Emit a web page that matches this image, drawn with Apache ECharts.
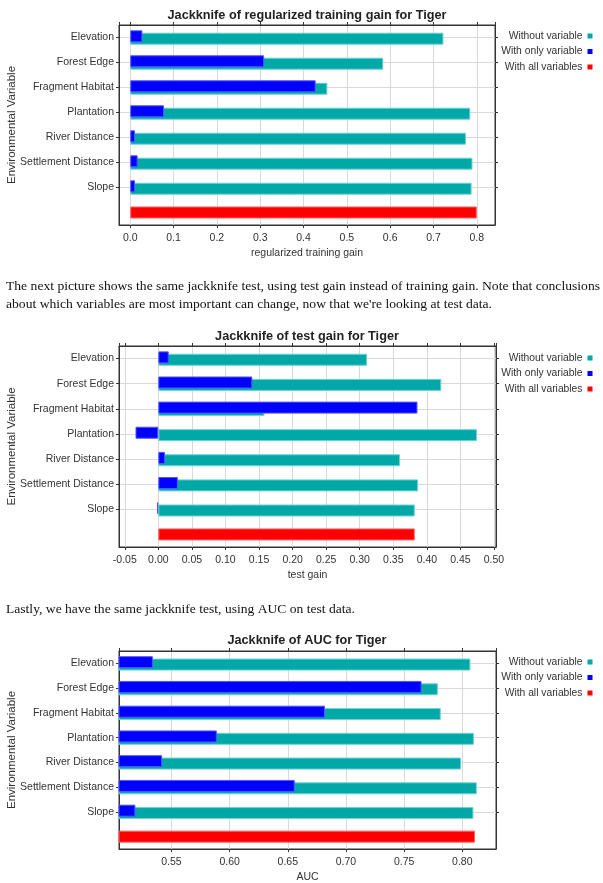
<!DOCTYPE html>
<html>
<head>
<meta charset="utf-8">
<script src="https://cdn.jsdelivr.net/npm/echarts@6/dist/echarts.min.js"></script>
<style>
html,body{margin:0;padding:0;background:#fff;}
#c{width:603px;height:883px;}
</style>
</head>
<body>
<div id="c"></div>
<script>
// ---------------- data ----------------
const variables = ['Elevation','Forest Edge','Fragment Habitat','Plantation','River Distance','Settlement Distance','Slope'];
const legendNames = ['Without variable','With only variable','With all variables'];
const chartTitles = ['Jackknife of regularized training gain for Tiger','Jackknife of test gain for Tiger','Jackknife of AUC for Tiger'];
const xAxisNames = ['regularized training gain','test gain','AUC'];
const yAxisName = 'Environmental Variable';
const paragraphLines = [
  'The next picture shows the same jackknife test, using test gain instead of training gain. Note that conclusions',
  "about which variables are most important can change, now that we're looking at test data.",
  'Lastly, we have the same jackknife test, using AUC on test data.'
];

const trainWithout = [0.723, 0.584, 0.455, 0.785, 0.775, 0.790, 0.788];
const trainOnly    = [0.028, 0.309, 0.428, 0.078, 0.011, 0.017, 0.011];
const trainAll     = 0.800;

const testWithout = [0.311, 0.4215, 0.158, 0.4747, 0.360, 0.387, 0.382];
const testOnly    = [0.0155, 0.140, 0.386, -0.034, 0.010, 0.029, -0.002];
const testAll     = 0.382;

const aucWithout = [0.807, 0.779, 0.7815, 0.810, 0.799, 0.8125, 0.8096];
const aucOnly    = [0.534, 0.765, 0.682, 0.589, 0.542, 0.656, 0.519];
const aucAll     = 0.811;

const axisMin = [-0.026, -0.0586, 0.5049];
const axisMax = [0.842, 0.503, 0.829];
const tickDecimals = [1, 2, 2];

// ---------------- layout / style ----------------
const FONT = "'Liberation Sans',Arial,sans-serif";
const SERIF = "'Liberation Serif','Times New Roman',serif";
const TXT = '#333';
const rows = variables.concat(['']);
const withoutSets = [trainWithout, testWithout, aucWithout];
const onlySets = [trainOnly, testOnly, aucOnly];
const allVals = [trainAll, testAll, aucAll];

const gridTops = [25, 346, 651];
const gridHeights = [200, 201, 198];
const gridWidths = [376, 377, 377];
const splitNumbers = [8, 11, 6];
const titleYs = [15, 336.5, 640];
const legendTops = [30, 352, 656];

const grids = [], xAxes = [], yAxes = [], series = [], legends = [], graphics = [];
const isVar = (i) => i < variables.length;

for (let k = 0; k < 3; k++) {
  grids.push({left: 119, top: gridTops[k], width: gridWidths[k], height: gridHeights[k],
    outerBoundsMode: 'none', containLabel: false,
    show: true, borderColor: '#333', borderWidth: 1, backgroundColor: '#fff'});
  const dec = tickDecimals[k];
  xAxes.push({
    type: 'value', gridIndex: k, position: 'bottom', min: axisMin[k], max: axisMax[k], splitNumber: splitNumbers[k],
    axisLine: {show: true, onZero: false, lineStyle: {color: '#333'}},
    axisTick: {show: true, length: 3, lineStyle: {color: '#333'}},
    axisLabel: {show: true, color: TXT, fontFamily: FONT, fontSize: 10.5, margin: 8,
      showMinLabel: false, showMaxLabel: false, formatter: (v) => v.toFixed(dec)},
    splitLine: {show: true, lineStyle: {color: '#d9d9d9', width: 1}},
    name: xAxisNames[k], nameLocation: 'middle', nameGap: 23, nameMoveOverlap: false,
    nameTextStyle: {color: TXT, fontFamily: FONT, fontSize: 10.5}
  });
  xAxes.push({
    type: 'value', gridIndex: k, position: 'top', min: axisMin[k], max: axisMax[k], splitNumber: splitNumbers[k],
    axisLine: {show: true, onZero: false, lineStyle: {color: '#333'}},
    axisTick: {show: true, length: 3, lineStyle: {color: '#333'}},
    axisLabel: {show: false}, splitLine: {show: false}
  });
  yAxes.push({
    type: 'category', gridIndex: k, position: 'left', data: rows, inverse: true,
    axisLine: {show: true, onZero: false, lineStyle: {color: '#333'}},
    axisTick: {show: true, alignWithLabel: true, length: 3, interval: isVar, lineStyle: {color: '#333'}},
    axisLabel: {show: true, color: TXT, fontFamily: FONT, fontSize: 10.5, margin: 5, interval: 0},
    splitLine: {show: true, alignWithLabel: true, interval: isVar, lineStyle: {color: '#d9d9d9', width: 1}},
    name: yAxisName, nameLocation: 'middle', nameGap: 101, nameRotate: 90, nameMoveOverlap: false,
    nameTextStyle: {color: TXT, fontFamily: FONT, fontSize: 11.5}
  });
  yAxes.push({
    type: 'category', gridIndex: k, position: 'right', data: rows, inverse: true,
    axisLine: {show: true, onZero: false, lineStyle: {color: '#333'}},
    axisTick: {show: true, alignWithLabel: true, length: 3, interval: isVar, lineStyle: {color: '#333'}},
    axisLabel: {show: false}, splitLine: {show: false}
  });
  const only = onlySets[k].concat([null]);
  const without = withoutSets[k].concat([null]);
  const all = variables.map(() => null).concat([allVals[k]]);
  series.push({
    type: 'bar', name: legendNames[1], xAxisIndex: 2 * k, yAxisIndex: 2 * k, data: only,
    barWidth: 12, barGap: '-80%', z: 4, clip: true, animation: false,
    itemStyle: {color: '#0000ff', borderColor: '#5555ff', borderWidth: 1}
  });
  series.push({
    type: 'bar', name: legendNames[0], xAxisIndex: 2 * k, yAxisIndex: 2 * k, data: without,
    barWidth: 12, barGap: '-80%', z: 3, clip: true, animation: false,
    itemStyle: {color: '#00a8a8', borderColor: '#70d2d2', borderWidth: 1}
  });
  series.push({
    type: 'bar', name: legendNames[2], xAxisIndex: 2 * k, yAxisIndex: 2 * k + 1, data: all,
    barWidth: 12, z: 3, clip: true, animation: false,
    itemStyle: {color: '#ff0000', borderColor: '#ff6060', borderWidth: 1}
  });
  legends.push({
    data: legendNames, orient: 'vertical', right: 10.5, top: legendTops[k], align: 'right', padding: 0,
    icon: 'rect', itemWidth: 5, itemHeight: 5, itemGap: 3.5, selectedMode: false,
    itemStyle: {borderWidth: 0},
    textStyle: {color: TXT, fontFamily: FONT, fontSize: 10.3, lineHeight: 12, padding: [0, 0, 0, 0]}
  });
  graphics.push({
    type: 'text', x: 307, y: titleYs[k], silent: true,
    style: {text: chartTitles[k], font: "bold 12.7px " + FONT, fill: '#222', textAlign: 'center', textVerticalAlign: 'middle'}
  });
}

// paragraphs between the charts
const paraYs = [287, 305, 610];
const paraWidths = [594, 486, 349];
const meas = document.createElement('canvas').getContext('2d');
const paraFont = '13px ' + SERIF;
meas.font = paraFont;
paragraphLines.forEach((t, i) => {
  const w = meas.measureText(t).width;
  graphics.push({
    type: 'text', x: 6, y: paraYs[i], scaleX: paraWidths[i] / w, silent: true,
    style: {text: t, font: paraFont, fill: '#111', textAlign: 'left', textVerticalAlign: 'middle'}
  });
});

const chart = echarts.init(document.getElementById('c'));
chart.setOption({
  animation: false,
  backgroundColor: '#fff',
  grid: grids, xAxis: xAxes, yAxis: yAxes, series: series, legend: legends,
  graphic: {elements: graphics}
});
</script>
</body>
</html>
